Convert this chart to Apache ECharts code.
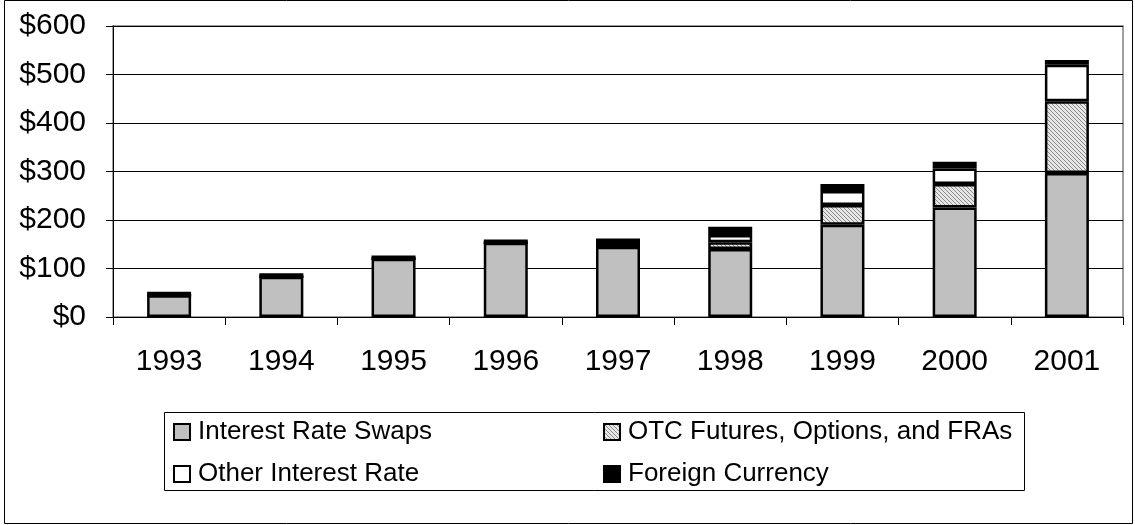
<!DOCTYPE html>
<html>
<head>
<meta charset="utf-8">
<script src="https://cdn.jsdelivr.net/npm/echarts@6/dist/echarts.min.js"></script>
<style>
  html, body { margin: 0; padding: 0; background: #fff; }
  #chart { width: 1135px; height: 525px; }
</style>
</head>
<body>
<div id="chart"></div>
<script>
// 年份
const years = ['1993', '1994', '1995', '1996', '1997', '1998', '1999', '2000', '2001']
// 各类衍生品名义金额（十亿美元）
const swaps = [45, 83, 120, 153, 145, 140, 190, 226, 297]
const otcFutures = [0, 0, 0, 0, 0, 14, 41, 48, 148]
const otherRate = [0, 0, 0, 0, 0, 15, 29, 32, 75]
const foreignCurrency = [7, 7, 7, 7, 17, 17, 14, 14, 10]

const seriesNames = ['Interest Rate Swaps', 'OTC Futures, Options, and FRAs', 'Other Interest Rate', 'Foreign Currency']

// 斜纹填充
function makeHatch() {
  const c = document.createElement('canvas')
  c.width = 4
  c.height = 4
  const ctx = c.getContext('2d')
  ctx.fillStyle = '#e6e6e6'
  ctx.fillRect(0, 0, 4, 4)
  ctx.fillStyle = '#8a8a8a'
  for (let i = 0; i < 4; i++) {
    ctx.fillRect(i, i, 1, 1)
  }
  return c
}

const chart = echarts.init(document.getElementById('chart'), null, { renderer: 'canvas' })

const barStyle = (color) => ({
  color: color,
  borderColor: '#000',
  borderWidth: 2.5
})

const font = 'Liberation Sans, Arial, sans-serif'

const legendText = { fontSize: 26, color: '#000', fontFamily: font, padding: [0, 0, 0, 3] }

const option = {
  animation: false,
  backgroundColor: '#fff',
  textStyle: { fontFamily: font },
  grid: {
    left: 113,
    right: 12,
    top: 26,
    bottom: 208,
    show: true,
    borderColor: '#808080',
    borderWidth: 1.5
  },
  legend: [
    {
      data: [seriesNames[0], seriesNames[2]],
      orient: 'vertical',
      left: 173,
      top: 419,
      icon: 'rect',
      itemWidth: 16,
      itemHeight: 16,
      itemGap: 16,
      padding: 0,
      textStyle: legendText,
      selectedMode: false
    },
    {
      data: [seriesNames[1], seriesNames[3]],
      orient: 'vertical',
      left: 603,
      top: 419,
      icon: 'rect',
      itemWidth: 16,
      itemHeight: 16,
      itemGap: 16,
      padding: 0,
      textStyle: legendText,
      selectedMode: false
    }
  ],
  xAxis: {
    type: 'category',
    data: years,
    boundaryGap: true,
    axisLine: { lineStyle: { color: '#000', width: 1 } },
    axisTick: { show: true, length: 8, lineStyle: { color: '#000' } },
    axisLabel: { fontSize: 30, color: '#000', margin: 30, fontFamily: font }
  },
  yAxis: {
    type: 'value',
    min: 0,
    max: 600,
    interval: 100,
    axisLine: { show: true, lineStyle: { color: '#000', width: 1 } },
    axisTick: { show: true, length: 7, lineStyle: { color: '#000' } },
    splitLine: { lineStyle: { color: '#000', width: 1 } },
    axisLabel: { fontSize: 30, color: '#000', margin: 27, fontFamily: font, formatter: '${value}' }
  },
  series: [
    { name: seriesNames[0], type: 'bar', stack: 'all', barWidth: 44, data: swaps, itemStyle: barStyle('#c0c0c0') },
    { name: seriesNames[1], type: 'bar', stack: 'all', barWidth: 44, data: otcFutures, itemStyle: barStyle({ image: makeHatch(), repeat: 'repeat' }) },
    { name: seriesNames[2], type: 'bar', stack: 'all', barWidth: 44, data: otherRate, itemStyle: barStyle('#fff') },
    { name: seriesNames[3], type: 'bar', stack: 'all', barWidth: 44, data: foreignCurrency, itemStyle: barStyle('#000') }
  ],
  graphic: [
    // 图例外框
    { type: 'rect', shape: { x: 164.5, y: 412.5, width: 860, height: 78 }, style: { fill: null, stroke: '#000', lineWidth: 1 }, z: 1 },
    // 整个图表外框
    { type: 'rect', shape: { x: 4.5, y: 0.5, width: 1128, height: 523 }, style: { fill: null, stroke: '#000', lineWidth: 1 }, z: 1 }
  ]
}

chart.setOption(option)
</script>
</body>
</html>
